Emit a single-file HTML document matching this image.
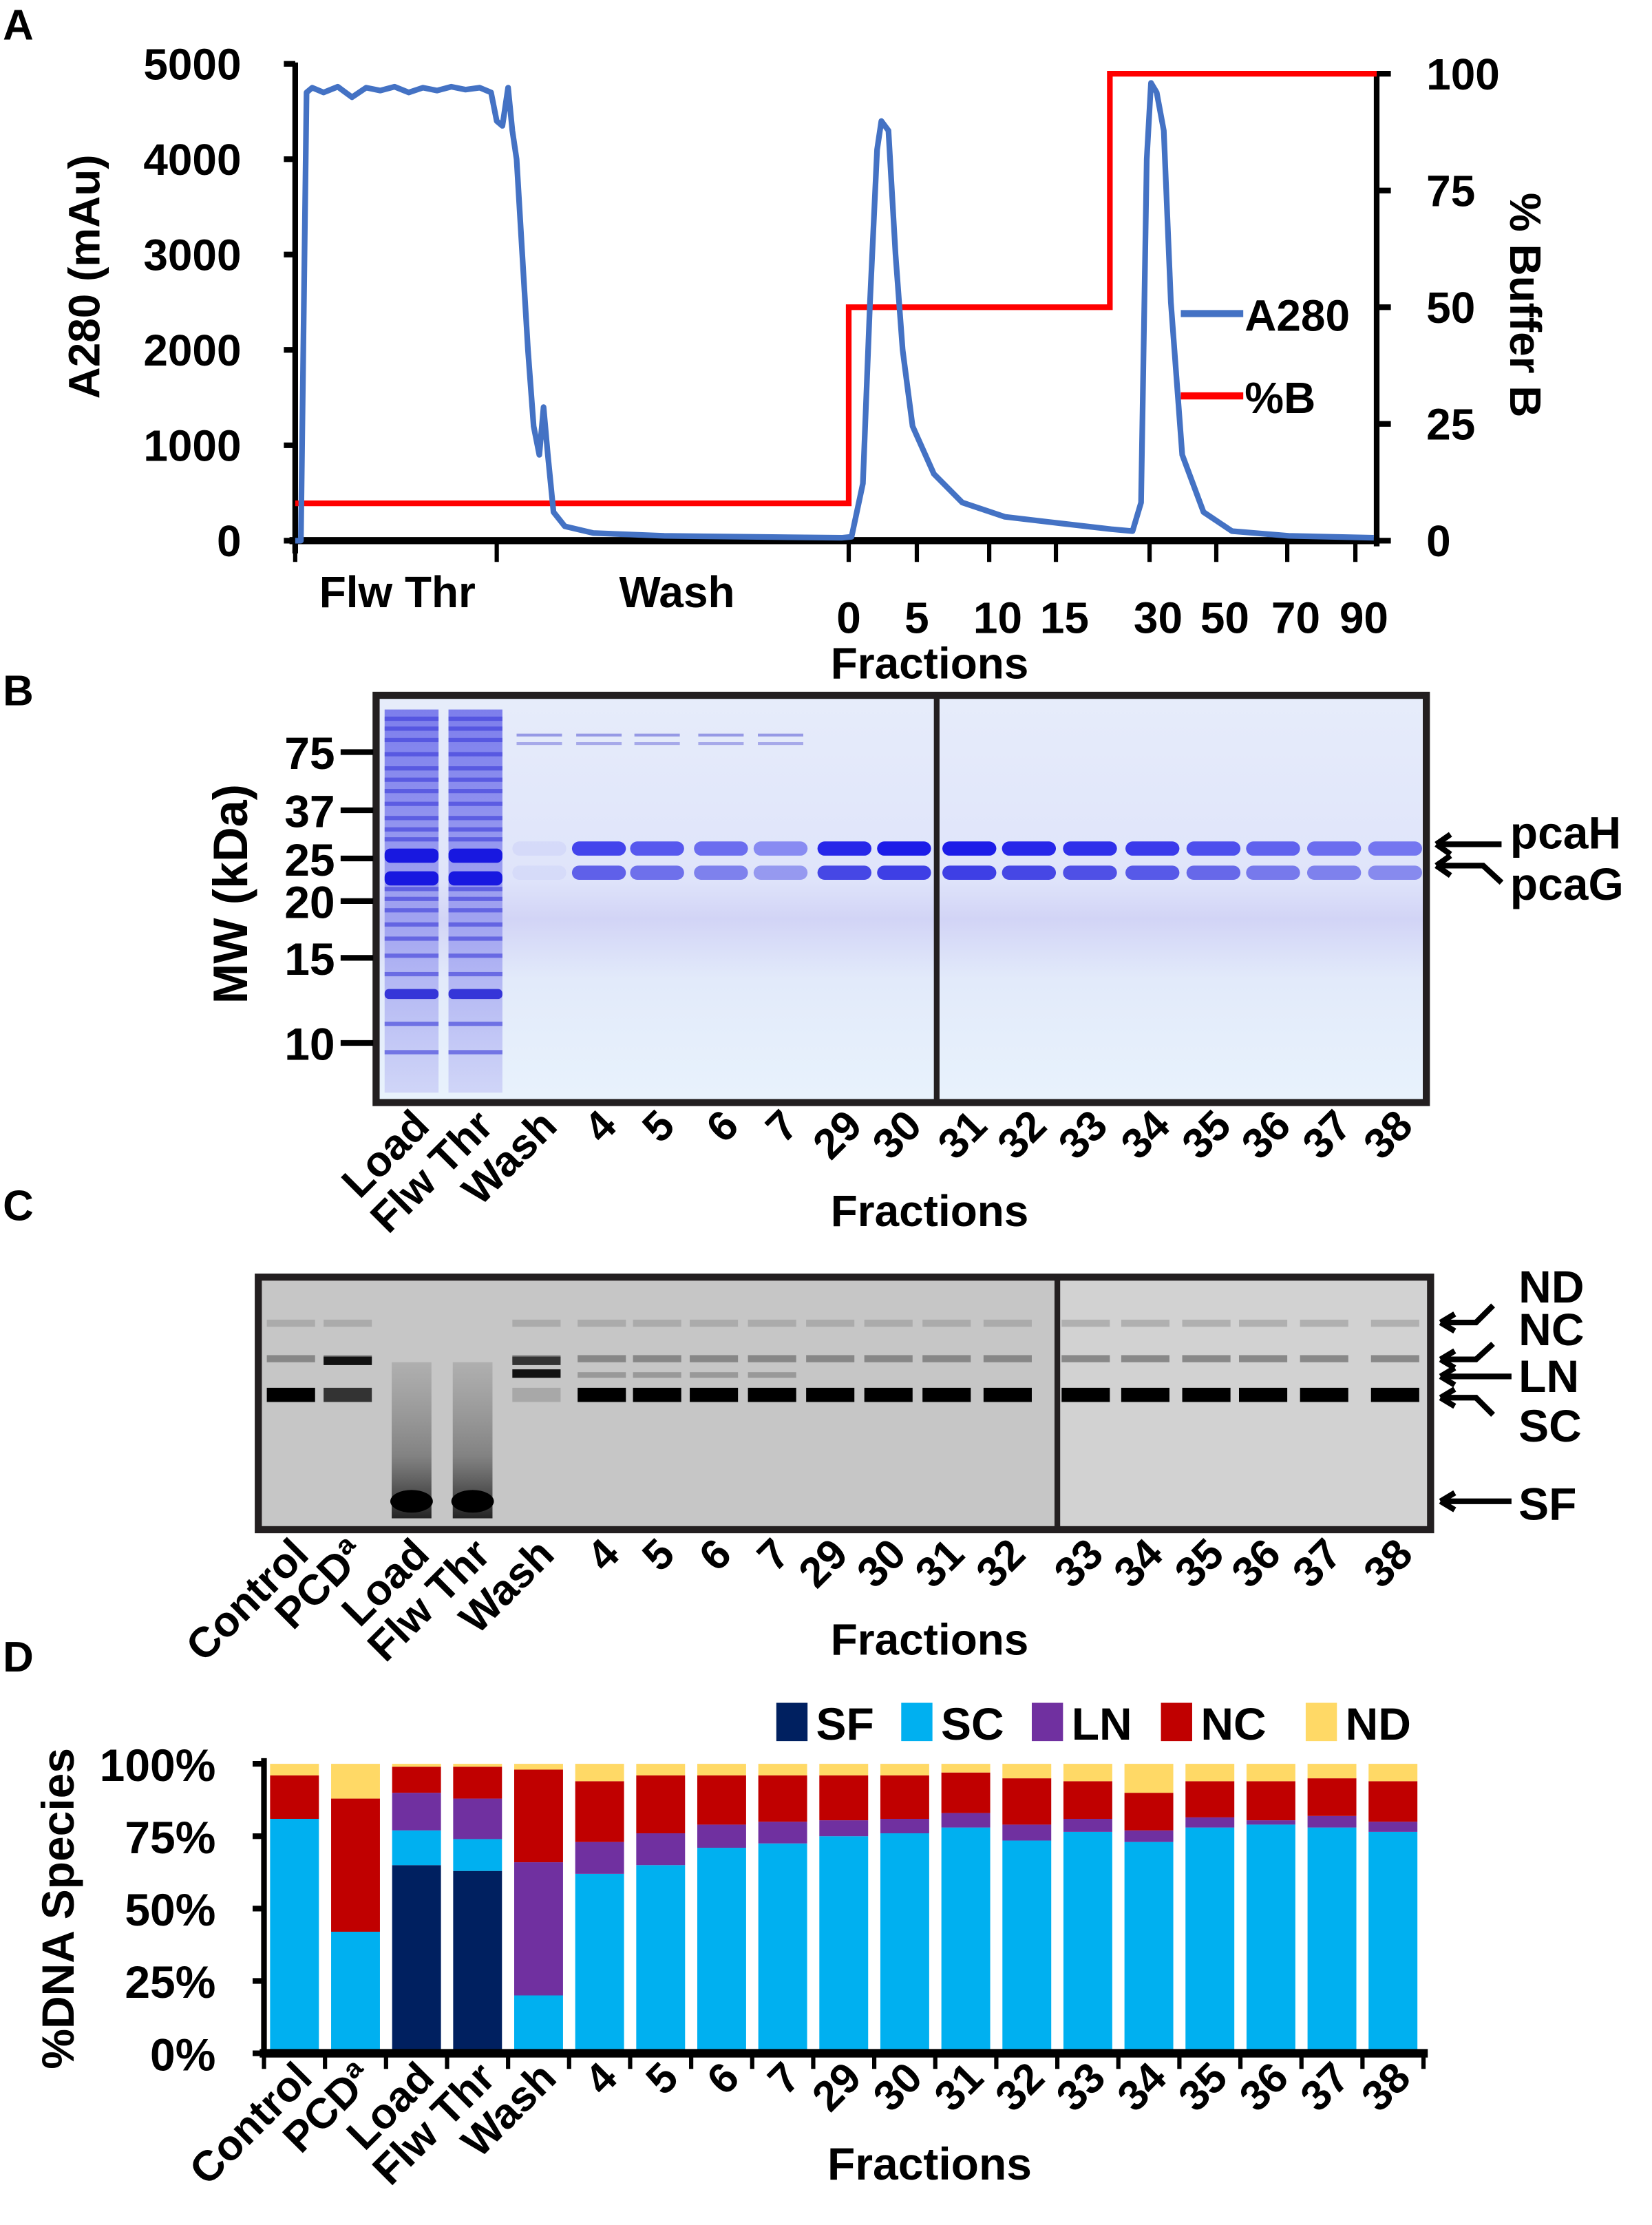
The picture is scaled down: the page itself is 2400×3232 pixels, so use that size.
<!DOCTYPE html>
<html><head><meta charset="utf-8"><style>
html,body{margin:0;padding:0;background:#fff;}
svg{display:block;font-family:"Liberation Sans",sans-serif;font-weight:bold;}
</style></head><body>
<svg id="fig" width="2400" height="3232" viewBox="0 0 1164 1568" preserveAspectRatio="none">
<defs>
<linearGradient id="gelB" x1="0" y1="0" x2="0" y2="1"><stop offset="0" stop-color="#e6ecfa"/><stop offset="0.45" stop-color="#dfe4fa"/><stop offset="0.55" stop-color="#d2d4f6"/><stop offset="0.7" stop-color="#e2eafa"/><stop offset="1" stop-color="#e8f2fc"/></linearGradient>
<linearGradient id="smear" x1="0" y1="0" x2="0" y2="1"><stop offset="0" stop-color="#7a7a7a" stop-opacity="0.3"/><stop offset="0.6" stop-color="#555" stop-opacity="0.6"/><stop offset="1" stop-color="#111" stop-opacity="0.9"/></linearGradient>
<linearGradient id="laneB" x1="0" y1="0" x2="0" y2="1"><stop offset="0" stop-color="#5a5ae8"/><stop offset="0.5" stop-color="#8a8cee"/><stop offset="1" stop-color="#c8ccf6"/></linearGradient>
</defs>
<g id="panelA"></g>
<g id="panelB"></g>
<g id="panelC"></g>
<g id="panelD"></g>
</svg>
<script>
// ---------- Panel A data ----------
const a280T = [0,4,8,12,20,30,40,50,60,70,80,90,100,110,120,130,138,142,146,150,153,156,160,164,168,172,175,178,182,190,210,260,320,385,392,400,405,410,413,418,423,428,435,450,470,500,540,575,590,596,600,603,607,612,617,625,640,660,700,760];
const a280V = [0,0,4700,4750,4700,4760,4650,4750,4720,4760,4700,4750,4720,4760,4730,4750,4700,4400,4350,4750,4300,4000,3000,2000,1200,900,1400,900,300,150,80,50,40,30,40,600,2500,4100,4400,4300,3000,2000,1200,700,400,250,180,120,100,400,4000,4800,4700,4300,2500,900,300,100,50,30];
const bufT = [0,390,390,574,574,762];
const bufV = [8,8,50,50,100,100];
const aLeftTicks = [0,1000,2000,3000,4000,5000];
const aRightTicks = [0,25,50,75,100];
const aXLabels = ["0","5","10","15","30","50","70","90"];

// ---------- Panel D data ----------
const dCats = ["Control","PCDª","Load","Flw Thr","Wash","4","5","6","7","29","30","31","32","33","34","35","36","37","38"];
const dSF = [0,0,65,63,0,0,0,0,0,0,0,0,0,0,0,0,0,0,0];
const dSC = [81,42,12,11,20,62,65,71,72.5,75,76,78,73.5,76.5,73,78,79,78,76.5];
const dLN = [0,0,13,14,46,11,11,8,7.5,5.5,5,5,5.5,4.5,4,3.5,1.5,4,3.5];
const dNC = [15,46,9,11,32,21,20,17,16,15.5,15,14,16,13,13,12.5,13.5,13,14];
const dND = [4,12,1,1,2,6,4,4,4,4,4,3,5,6,10,6,6,5,6];
const dTicks = ["0%","25%","50%","75%","100%"];
const dSeriesNames = ["SF","SC","LN","NC","ND"];
const dColors = ["#002060","#00B0F0","#7030A0","#C00000","#FFD966"];

const NS="http://www.w3.org/2000/svg";
function mk(tag,attrs,parent,text){const e=document.createElementNS(NS,tag);for(const k in attrs)e.setAttribute(k,attrs[k]);if(text!==undefined)e.textContent=text;parent.appendChild(e);return e;}

// ---------- Panel A ----------
(function(){
const g=document.getElementById('panelA');
const xA=t=>208+t;
const yL=v=>381-v*(336/5000);
const yR=v=>381-v*(329/100);
let t=mk('text',{x:2,y:28,'font-size':30},g,'A');

let ax=mk('line',{x1:208,y1:44,x2:208,y2:390,stroke:'#000','stroke-width':4},g);

ax=mk('line',{x1:970,y1:50,x2:970,y2:385,stroke:'#000','stroke-width':4},g);

ax=mk('line',{x1:204,y1:381,x2:972,y2:381,stroke:'#000','stroke-width':5},g);

aLeftTicks.forEach(v=>{const y=yL(v);
 mk('line',{x1:200,y1:y,x2:208,y2:y,stroke:'#000','stroke-width':4},g);
 const l=mk('text',{x:170,y:y+11,'font-size':31,'text-anchor':'end'},g,String(v));
 });
aRightTicks.forEach(v=>{const y=yR(v);
 mk('line',{x1:970,y1:y,x2:980,y2:y,stroke:'#000','stroke-width':4},g);
 const l=mk('text',{x:1005,y:y+11,'font-size':31},g,String(v));
 });
[208,350,598,646,697,744,810,857,907,955].forEach(x=>mk('line',{x1:x,y1:381,x2:x,y2:396,stroke:'#000','stroke-width':3},g));
const fx=[598,646,697,744,810,857,907,955];
aXLabels.forEach((s,i)=>{const l=mk('text',{x:fx[i]+(i<2?0:6),y:446,'font-size':31,'text-anchor':'middle'},g,s);
 });
let l=mk('text',{x:280,y:428,'font-size':31,'text-anchor':'middle'},g,'Flw Thr');
l=mk('text',{x:477,y:428,'font-size':31,'text-anchor':'middle'},g,'Wash');
l=mk('text',{x:655,y:478,'font-size':31,'text-anchor':'middle'},g,'Fractions');
l=mk('text',{x:0,y:0,'font-size':31,'text-anchor':'middle',transform:'translate(70,195) rotate(-90)'},g,'A280 (mAu)');
l=mk('text',{x:0,y:0,'font-size':31,'text-anchor':'middle',transform:'translate(1064,215) rotate(90)'},g,'% Buffer B');
let p=mk('polyline',{points:bufT.map((v,i)=>xA(v)+','+yR(bufV[i])).join(' '),fill:'none',stroke:'#FF0000','stroke-width':4},g);

p=mk('polyline',{points:a280T.map((v,i)=>xA(v)+','+yL(a280V[i])).join(' '),fill:'none',stroke:'#4472C4','stroke-width':4,'stroke-linejoin':'round'},g);

mk('line',{x1:832,y1:221,x2:876,y2:221,stroke:'#4472C4','stroke-width':5},g);
l=mk('text',{x:877,y:233,'font-size':31},g,'A280');
mk('line',{x1:832,y1:279,x2:876,y2:279,stroke:'#FF0000','stroke-width':5},g);
l=mk('text',{x:877,y:291,'font-size':31},g,'%B');
})();

// ---------- Panel B ----------
(function(){
const g=document.getElementById('panelB');
let l=mk('text',{x:2,y:497,'font-size':30},g,'B');
mk('rect',{x:267,y:492,width:736,height:283,fill:'url(#gelB)'},g);
const lanes=[290,335,380,422,463,508,550,595,637,683,725,768,812,855,897,940,983];
const names=["Load","Flw Thr","Wash","4","5","6","7","29","30","31","32","33","34","35","36","37","38"];
const hStr=[0,0,0.05,0.8,0.7,0.6,0.45,0.95,1,1,0.95,0.9,0.85,0.75,0.65,0.6,0.55];
for(let i=0;i<2;i++){mk('rect',{x:lanes[i]-19,y:500,width:38,height:270,fill:'url(#laneB)',opacity:0.75},g);
 [505,512,520,530,540,548,556,565,575,583,590,625,632,640,650,660,672,685,720,740].forEach(y=>mk('rect',{x:lanes[i]-19,y:y,width:38,height:3,fill:'#3a3ad8',opacity:0.6},g));
 mk('rect',{x:lanes[i]-19,y:598,width:38,height:10,rx:4,fill:'#1818e0'},g);
 mk('rect',{x:lanes[i]-19,y:614,width:38,height:10,rx:4,fill:'#1818e0'},g);
 mk('rect',{x:lanes[i]-19,y:697,width:38,height:7,rx:3,fill:'#3535d8'},g);}
for(let i=2;i<lanes.length;i++){const a=hStr[i];
 const b1=mk('rect',{x:lanes[i]-19,y:593,width:38,height:10,rx:5,fill:'#1c1ce8',opacity:a},g);
 
 const b2=mk('rect',{x:lanes[i]-19,y:610,width:38,height:10,rx:5,fill:'#2222e0',opacity:a*0.85},g);
 
 if(i<7){mk('rect',{x:lanes[i]-16,y:517,width:32,height:2,fill:'#4848d0',opacity:0.5},g);mk('rect',{x:lanes[i]-16,y:523,width:32,height:2,fill:'#4848d0',opacity:0.4},g);}}
mk('rect',{x:265,y:490,width:740,height:287,fill:'none',stroke:'#231f20','stroke-width':5},g);
mk('line',{x1:660,y1:490,x2:660,y2:777,stroke:'#231f20','stroke-width':4},g);
[["75",530],["37",571],["25",605],["20",635],["15",675],["10",735]].forEach(m=>{
 mk('line',{x1:240,y1:m[1],x2:263,y2:m[1],stroke:'#000','stroke-width':4},g);
 const t=mk('text',{x:236,y:m[1]+12,'font-size':32,'text-anchor':'end'},g,m[0]);});
l=mk('text',{x:0,y:0,'font-size':34,'text-anchor':'middle',transform:'translate(174,630) rotate(-90)'},g,'MW (kDa)');
names.forEach((n,i)=>{const t=mk('text',{x:0,y:0,'font-size':30,'text-anchor':'end',transform:`translate(${lanes[i]+14},${795}) rotate(-45)`},g,n);});
l=mk('text',{x:655,y:864,'font-size':31,'text-anchor':'middle'},g,'Fractions');
mk('path',{d:'M1012,595 L1058,595',stroke:'#000','stroke-width':4},g);mk('path',{d:'M1012,595 l10,-7 M1012,595 l10,7',stroke:'#000','stroke-width':4,fill:'none'},g);
mk('path',{d:'M1012,610 L1045,610 L1058,622',stroke:'#000','stroke-width':4,fill:'none'},g);mk('path',{d:'M1012,610 l10,-7 M1012,610 l10,7',stroke:'#000','stroke-width':4,fill:'none'},g);
l=mk('text',{x:1064,y:598,'font-size':32},g,'pcaH');
l=mk('text',{x:1064,y:634,'font-size':32},g,'pcaG');
})();

// ---------- Panel C ----------
(function(){
const g=document.getElementById('panelC');
let l=mk('text',{x:2,y:860,'font-size':30},g,'C');
mk('rect',{x:182,y:900,width:563,height:178,fill:'#c6c6c6'},g);
mk('rect',{x:745,y:900,width:263,height:178,fill:'#d2d2d2'},g);
const lanes=[205,245,290,333,378,424,463,503,544,585,626,667,710,765,807,850,890,933,983];
const names=["Control","PCDª","Load","Flw Thr","Wash","4","5","6","7","29","30","31","32","33","34","35","36","37","38"];
lanes.forEach((x,i)=>{
 if(i===2||i===3){mk('rect',{x:x-14,y:960,width:28,height:110,fill:'url(#smear)'},g);
   mk('ellipse',{cx:x,cy:1058,rx:15,ry:8,fill:'#000'},g);}
 else{
  const sc=mk('rect',{x:x-17,y:978,width:34,height:10,fill:i===1?'#333':'#000',opacity:i===4?0.15:1},g);
  
  mk('rect',{x:x-17,y:955,width:34,height:5,fill:'#777',opacity:0.8},g);
  mk('rect',{x:x-17,y:930,width:34,height:5,fill:'#9a9a9a',opacity:0.6},g);
  if(i===1)mk('rect',{x:x-17,y:956,width:34,height:6,fill:'#111'},g);
  if(i===4){mk('rect',{x:x-17,y:956,width:34,height:6,fill:'#333'},g);mk('rect',{x:x-17,y:965,width:34,height:6,fill:'#111'},g);}
  if(i>=5&&i<=8)mk('rect',{x:x-17,y:967,width:34,height:4,fill:'#999'},g);}
});
mk('rect',{x:182,y:900,width:826,height:178,fill:'none',stroke:'#231f20','stroke-width':5},g);
mk('line',{x1:745,y1:900,x2:745,y2:1078,stroke:'#231f20','stroke-width':4},g);
names.forEach((n,i)=>{const t=mk('text',{x:0,y:0,'font-size':30,'text-anchor':'end',transform:`translate(${lanes[i]+14},${1097}) rotate(-45)`},g,n);});
l=mk('text',{x:655,y:1166,'font-size':31,'text-anchor':'middle'},g,'Fractions');
const arr=[['ND',932,'M1015,932 L1040,932 L1052,920',906],['NC',958,'M1015,958 L1040,958 L1052,947',936],['LN',970,'M1015,970 L1065,970',969],['SC',985,'M1015,985 L1040,985 L1052,997',1004],['SF',1058,'M1015,1058 L1065,1058',1059]];
arr.forEach(a=>{mk('path',{d:a[2],stroke:'#000','stroke-width':4,fill:'none'},g);
 const y=a[1];
 mk('path',{d:`M1015,${y} l10,-6 M1015,${y} l10,6`,stroke:'#000','stroke-width':4,fill:'none'},g);
 const t=mk('text',{x:1070,y:a[3]+12,'font-size':32},g,a[0]);});
})();

// ---------- Panel D ----------
(function(){
const g=document.getElementById('panelD');
const x0=186,x1=1003,yTop=1243,yBot=1447;
const step=(x1-x0)/dCats.length, bw=step*0.8;
const yS=v=>yBot-v*(yBot-yTop)/100;
let l=mk('text',{x:2,y:1178,'font-size':30},g,'D');
const series=[dSF,dSC,dLN,dNC,dND];
dCats.forEach((c,i)=>{let acc=0;const cx=x0+step*(i+0.5);
 series.forEach((s,k)=>{const v=s[i];if(v<=0){return;}
  const r=mk('rect',{x:cx-bw/2,y:yS(acc+v),width:bw,height:yS(acc)-yS(acc+v),fill:dColors[k]},g);
  
  
  acc+=v;});
 const t=mk('text',{x:0,y:0,'font-size':30,'text-anchor':'end',transform:`translate(${cx+14},${1466}) rotate(-45)`},g,c);
 
});
mk('line',{x1:186,y1:yTop-4,x2:186,y2:yBot,stroke:'#000','stroke-width':4},g);
mk('line',{x1:183,y1:yBot,x2:1006,y2:yBot,stroke:'#000','stroke-width':6},g);
for(let i=0;i<=dCats.length;i++){const x=x0+step*i;mk('line',{x1:x,y1:yBot,x2:x,y2:yBot+11,stroke:'#000','stroke-width':3},g);}
dTicks.forEach((s,i)=>{const y=yS(i*25);mk('line',{x1:178,y1:y,x2:186,y2:y,stroke:'#000','stroke-width':4},g);
 const t=mk('text',{x:152,y:y+12,'font-size':32,'text-anchor':'end'},g,s);});
l=mk('text',{x:0,y:0,'font-size':32,'text-anchor':'middle',transform:'translate(52,1345) rotate(-90)'},g,'%DNA Species');
l=mk('text',{x:655,y:1536,'font-size':32,'text-anchor':'middle'},g,'Fractions');
const lx=[547,635,727,818,920];
dSeriesNames.forEach((n,k)=>{mk('rect',{x:lx[k],y:1200,width:22,height:27,fill:dColors[k]},g);
 const t=mk('text',{x:lx[k]+28,y:1226,'font-size':32},g,n);});
})();
</script>
</body></html>
